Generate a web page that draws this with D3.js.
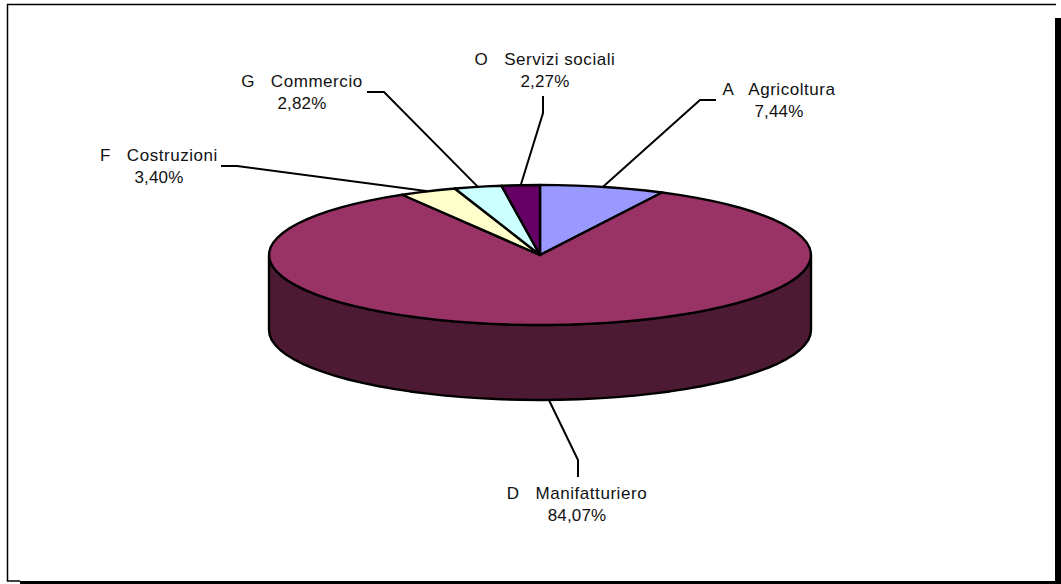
<!DOCTYPE html>
<html>
<head>
<meta charset="utf-8">
<script src="https://d3js.org/d3.v7.min.js"></script>
<style>
  html, body { margin: 0; padding: 0; background: #fff; overflow: hidden; }
  svg { display: block; }
  text { font-family: "Liberation Sans", Arial, sans-serif; font-size: 17px; fill: #111; white-space: pre; }
</style>
</head>
<body>
<script>
const WIDTH  = 1061;
const HEIGHT = 584;

// Data, clockwise from twelve o'clock
const categories = ['A   Agricoltura', 'D   Manifatturiero', 'F   Costruzioni', 'G   Commercio', 'O   Servizi sociali'];
const shares     = [7.44, 84.07, 3.40, 2.82, 2.27];
const shareTexts = ['7,44%', '84,07%', '3,40%', '2,82%', '2,27%'];

const colors    = ['#9999ff', '#993366', '#ffffcc', '#ccffff', '#660066'];
const SIDECOLOR = '#4d1a33';

// Pie geometry
const CX = 540, CY = 255, RX = 271, RY = 70, DEPTH = 75;

// Label centre and baseline, then the leader elbow and its end next to the label
const labelX    = [779, 577, 159, 302, 545];
const labelY    = [95, 499, 161, 87, 65];
const elbows    = [[700, 100], [578, 460], [237, 166], [384, 92], [543, 113]];
const leaderEnd = [[716, 100], [578, 477], [221, 166], [367, 92], [543, 96]];

const svg = d3.select('body').append('svg')
    .attr('width', WIDTH)
    .attr('height', HEIGHT);

// Frame and its heavy shadow
svg.append('rect').attr('width', WIDTH).attr('height', HEIGHT).attr('fill', '#fff');
svg.append('path')
    .attr('d', 'M20,581H7.5V4.5H1056')
    .attr('fill', 'none').attr('stroke', '#000').attr('stroke-width', 1.5);
svg.append('rect').attr('x', 1055).attr('y', 18).attr('width', 6).attr('height', 566).attr('fill', '#000');
svg.append('rect').attr('x', 20).attr('y', 581).attr('width', 1041).attr('height', 3).attr('fill', '#000');

const xScale = d3.scaleLinear().domain([-1, 1]).range([CX - RX, CX + RX]);
const yScale = d3.scaleLinear().domain([-1, 1]).range([CY - RY, CY + RY]);

const px = a => xScale(Math.sin(a));
const py = a => yScale(-Math.cos(a));

const pie = d3.pie().sort(null).value(d => d);
const slices = pie(shares);

// Coarse sampling on purpose: the original rim is slightly faceted
const sample = (a0, a1) => {
    const n = Math.max(2, Math.ceil((a1 - a0) * 14));
    return d3.range(n + 1).map(i => a0 + (a1 - a0) * i / n);
};

// Side wall: only the front half of the rim shows
const wall = d3.area()
    .x(px)
    .y0(py)
    .y1(a => py(a) + DEPTH);

svg.append('path')
    .attr('d', wall(sample(Math.PI / 2, 3 * Math.PI / 2)))
    .attr('fill', SIDECOLOR)
    .attr('stroke', '#000')
    .attr('stroke-width', 2.4)
    .attr('stroke-linejoin', 'round');

// Top face
const rim = d3.line().x(px).y(py);
svg.append('g').selectAll('path')
    .data(slices)
    .join('path')
    .attr('d', d => `M${xScale(0)},${yScale(0)}L` + rim(sample(d.startAngle, d.endAngle)).slice(1) + 'Z')
    .attr('fill', (d, i) => colors[i])
    .attr('stroke', '#000')
    .attr('stroke-width', 2.4)
    .attr('stroke-linejoin', 'round');

// Leader lines start on the rim at the middle of each slice
const midAngle = d => (d.startAngle + d.endAngle) / 2;
const leaderStart = d => {
    const a = midAngle(d);
    const front = Math.cos(a) < 0;
    return [px(a), py(a) + (front ? DEPTH : 0)];
};

svg.append('g').selectAll('path')
    .data(slices)
    .join('path')
    .attr('d', (d, i) => d3.line()([leaderStart(d), elbows[i], leaderEnd[i]]))
    .attr('fill', 'none')
    .attr('stroke', '#000')
    .attr('stroke-width', 2);

// Labels
const labels = svg.append('g').selectAll('text')
    .data(categories)
    .join('text')
    .attr('text-anchor', 'middle')
    .attr('x', (d, i) => labelX[i])
    .attr('y', (d, i) => labelY[i]);

labels.append('tspan')
    .attr('letter-spacing', 0.55)
    .text(d => d);
labels.append('tspan')
    .attr('x', (d, i) => labelX[i])
    .attr('dy', 22)
    .attr('letter-spacing', 0.15)
    .text((d, i) => shareTexts[i]);
</script>
</body>
</html>
